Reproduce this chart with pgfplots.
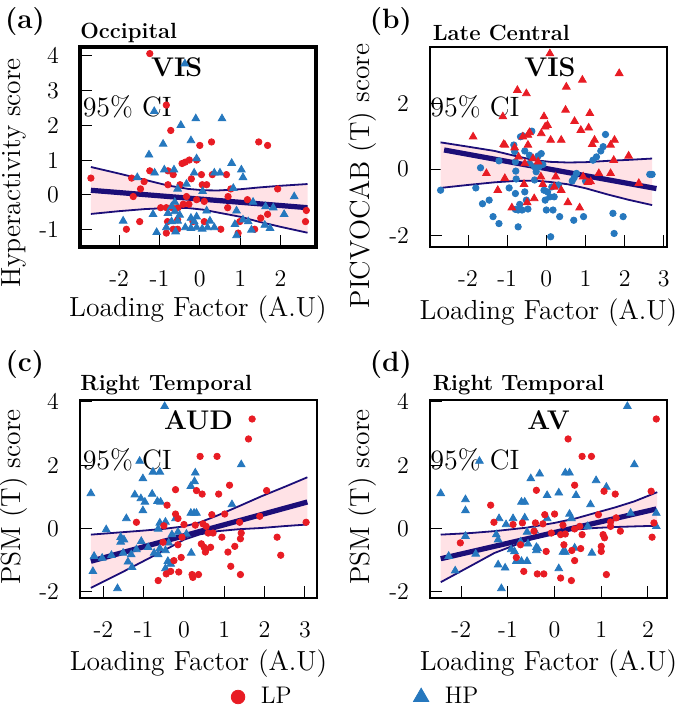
\documentclass[border=0pt]{standalone}
\usepackage{fontspec}
\usepackage{pgfplots}
\pgfplotsset{compat=1.18}
\definecolor{lpred}{RGB}{232,28,36}
\definecolor{hpblue}{RGB}{38,120,190}
\definecolor{navy}{RGB}{28,14,120}
\definecolor{cipink}{RGB}{255,226,230}
\pgfplotsset{
 panel/.style={scale only axis, clip=false,
   axis line style={line width=1.1pt}, tick align=inside, tick pos=left,
   major tick length=6pt, tick style={black,line width=0.5pt},
   /pgf/number format/assume math mode=true,
   tick label style={font=\fontsize{12}{14}\selectfont},
   xticklabel style={yshift=-8pt}, yticklabel style={xshift=-7pt},
   every axis y label/.style={rotate=90, anchor=center, font=\fontsize{13.8}{16}\selectfont},
   every axis x label/.style={anchor=center, font=\fontsize{13.8}{16}\selectfont}},
 redc/.style={only marks, mark=*, mark size=1.6pt, color=lpred},
 bluec/.style={only marks, mark=*, mark size=1.6pt, color=hpblue},
 redt/.style={only marks, mark=triangle*, mark size=2.2pt, color=lpred},
 bluet/.style={only marks, mark=triangle*, mark size=2.2pt, color=hpblue},
 reg/.style={navy, line width=2.6pt, no marks},
 ci/.style={navy, line width=0.9pt, no marks},
 band/.style={fill=cipink, draw=none, no marks},
}
\newcommand{\lbl}[1]{{\fontsize{14}{16}\selectfont\bfseries #1}}
\newcommand{\reg}[1]{{\fontsize{11}{13}\selectfont\bfseries #1}}
\newcommand{\net}[1]{{\fontsize{13.5}{16}\selectfont\bfseries #1}}
\newcommand{\ci}{{\fontsize{14}{16}\selectfont 95\% CI}}
\begin{document}
\begin{tikzpicture}
\path[use as bounding box] (0,0) rectangle (342.5pt,358pt);
% ---------------- (a)
\begin{axis}[panel, at={(40pt,234.5pt)}, anchor=south west, width=118pt, height=100pt,
  axis line style={line width=1.6pt},
  xmin=-2.97, xmax=2.88, ymin=-1.5, ymax=4.25,
  xtick={-2,-1,0,1,2}, ytick={-1,0,1,2,3,4},
  xlabel={Loading Factor (A.U)}, ylabel={Hyperactivity score},
  xlabel style={at={(rel axis cs:0.5,-0.315)}},
  ylabel style={at={(rel axis cs:-0.279,0.37)}}]
\addplot[band] coordinates {(-2.70,0.80) (-2.0,0.61) (-1.36,0.43) (-0.8,0.27) (-0.29,0.17) (0.1,0.13) (0.45,0.125) (1.0,0.16) (1.45,0.21) (2.0,0.26) (2.67,0.31) (2.67,-1.09) (2.0,-0.92) (1.45,-0.77) (1.0,-0.63) (0.45,-0.51) (0.1,-0.43) (-0.29,-0.38) (-0.8,-0.38) (-1.36,-0.41) (-2.0,-0.47) (-2.70,-0.55)} -- cycle;
\addplot[redc] coordinates {(-1.24,4.06) (-0.83,2.58) (-0.72,1.85) (0,1.42) (0.29,1.52) (1.46,1.52) (1.68,1.42) (-0.44,0.90) (-0.36,0.94) (-0.26,1.0) (-0.08,1.0) (-1.24,0.69) (-0.79,0.69) (-0.66,0.58) (0.04,0.58) (0.31,0.58) (0.66,0.58) (-2.70,0.48) (-1.69,0.48) (-1.38,0.38) (-1.47,0.17) (-1.65,-0.05) (-0.79,0.29) (-0.49,0.29) (-0.21,0.46) (0.06,0.29) (0.17,0.29) (0.77,0.17) (1.93,0.17) (-0.33,-0.05) (-0.08,-0.14) (0.70,-0.05) (1.18,-0.14) (-0.97,-0.37) (-0.83,-0.37) (-0.69,-0.37) (-0.54,-0.37) (-0.41,-0.27) (-0.27,-0.27) (0.69,-0.37) (1.68,-0.56) (1.51,-0.67) (2.64,-0.45) (2.62,-0.77) (-1.49,-0.77) (-0.80,-0.77) (-0.55,-0.72) (-0.17,-0.77) (0.11,-0.77) (0.99,-0.77) (-1.82,-0.99) (-0.83,-1.10) (-0.66,-0.99) (-0.55,-0.99) (0.52,-0.99) (1.36,-0.99) (0.95,-1.10) (0.11,-0.19)};
\addplot[bluet] coordinates {(-0.37,3.77) (-1.13,2.40) (-0.10,2.19) (0.55,2.19) (-0.47,2.0) (-0.91,1.46) (-0.22,1.56) (-1.26,1.15) (-0.08,1.04) (0.79,0.91) (1.03,0.72) (1.07,0.5) (-1.12,0.63) (-0.88,0.72) (-0.64,0.72) (-0.14,0.63) (0.36,0.63) (0.50,0.63) (-1.55,0.5) (-0.33,0.31) (-0.55,0.17) (0.07,0.10) (0.83,0.19) (1.32,-0.21) (2.34,-0.05) (1.63,-0.34) (1.82,-0.37) (0.91,-0.46) (2.09,-0.56) (-0.62,-0.21) (-0.70,-0.34) (-0.79,-0.53) (-0.62,-0.48) (-0.50,-0.58) (-0.08,-0.63) (0.17,-0.46) (-1.90,-0.75) (-1.16,-0.56) (-0.70,-0.77) (-0.55,-0.75) (-0.22,-0.67) (-0.14,-0.77) (0.25,-0.75) (0.87,-0.85) (1.07,-0.72) (1.20,-0.77) (1.61,-0.87) (1.74,-0.96) (-1.07,-1.08) (-0.83,-0.94) (-0.60,-1.06) (-0.36,-0.94) (-0.22,-0.96) (-0.08,-0.94) (0.06,-0.98) (0.19,-0.94) (0.36,-0.94) (0.91,-1.17) (1.28,-1.01)};
\addplot[ci] coordinates {(-2.70,0.80) (-2.0,0.61) (-1.36,0.43) (-0.8,0.27) (-0.29,0.17) (0.1,0.13) (0.45,0.125) (1.0,0.16) (1.45,0.21) (2.0,0.26) (2.67,0.31)};
\addplot[ci] coordinates {(-2.70,-0.55) (-2.0,-0.47) (-1.36,-0.41) (-0.8,-0.38) (-0.29,-0.38) (0.1,-0.43) (0.45,-0.51) (1.0,-0.63) (1.45,-0.77) (2.0,-0.92) (2.67,-1.09)};
\addplot[reg] coordinates {(-2.70,0.13) (2.67,-0.37)};
\node at (rel axis cs:-0.233,1.125) {\lbl{(a)}};
\node[anchor=west, inner sep=0pt] at (rel axis cs:0,1.07) {\reg{Occipital}};
\node at (rel axis cs:0.41,0.9) {\net{VIS}};
\node[anchor=west, inner sep=0pt] at (rel axis cs:0.01,0.70) {\ci};
\end{axis}
% ---------------- (b)
\begin{axis}[panel, at={(215pt,234.5pt)}, anchor=south west, width=118.5pt, height=100pt,
  xmin=-2.97, xmax=3.08, ymin=-2.36, ymax=3.70,
  xtick={-2,-1,0,1,2,3}, ytick={-2,0,2},
  xlabel={Loading Factor (A.U)}, ylabel={PICVOCAB (T) score},
  xlabel style={at={(rel axis cs:0.5,-0.33)}},
  ylabel style={at={(rel axis cs:-0.283,0.355)}}]
\addplot[band] coordinates {(-2.70,0.81) (-2.0,0.68) (-1.32,0.55) (-0.8,0.40) (-0.30,0.27) (0.1,0.22) (0.55,0.20) (1.0,0.21) (1.57,0.25) (2.1,0.28) (2.70,0.32) (2.70,-1.09) (2.1,-0.93) (1.57,-0.77) (1.0,-0.58) (0.55,-0.46) (0.1,-0.39) (-0.30,-0.35) (-0.8,-0.36) (-1.32,-0.40) (-2.0,-0.48) (-2.70,-0.57)} -- cycle;
\addplot[bluec] coordinates {(-2.70,-0.64) (-1.68,0.04) (-1.80,-0.57) (-1.63,-1.05) (-1.46,-0.94) (-1.36,-1.44) (-1.21,-1.65) (-1.21,0.25) (-0.95,-0.57) (-0.83,0.73) (-0.81,0.53) (-0.79,0.22) (-0.78,-0.06) (-0.77,-0.30) (-0.79,-0.74) (-0.72,-1.24) (-0.68,-1.07) (-0.79,-1.22) (-0.72,-1.75) (-0.62,-1.24) (-0.66,0.98) (-0.60,1.01) (-0.55,0.55) (-0.55,-0.69) (-0.51,-0.94) (-0.47,-1.21) (-0.43,0.42) (-0.43,0.17) (-0.37,1.15) (-0.30,0.07) (-0.26,-0.08) (-0.21,0.40) (-0.19,0.07) (-0.13,0.47) (-0.09,0.14) (-0.06,-0.64) (-0.03,-0.94) (0,-1.24) (0.03,-0.69) (0.09,-0.84) (0.11,-2.05) (0.17,-1.24) (0.20,-0.84) (0.31,-0.48) (0.34,-1.44) (0.70,-1.55) (0.66,-0.36) (0.71,-0.26) (0.77,-0.13) (0.95,-1.44) (1.0,-0.36) (1.19,0.27) (1.28,0.37) (1.39,0.55) (1.45,0.68) (1.51,1.05) (1.70,-1.34) (1.73,-1.95) (1.96,-1.44) (2.64,-0.16) (2.70,-0.16) (0.14,-0.54) (-0.30,-0.33)};
\addplot[redt] coordinates {(0.09,3.5) (1.86,2.90) (0.92,2.70) (-0.74,2.39) (-0.51,2.29) (0.51,2.49) (-1.11,1.59) (0.49,1.79) (0.72,1.45) (1.11,1.69) (0.88,1.18) (1.08,1.25) (-0.06,1.59) (-0.03,1.28) (0.03,1.33) (-0.47,1.03) (-0.43,1.11) (-0.60,0.98) (-0.13,1.08) (0.11,0.88) (0.38,0.88) (-1.87,0.98) (-1.09,0.75) (-1.06,0.73) (-0.81,0.65) (1.17,0.75) (1.23,0.88) (1.64,0.73) (1.74,0.88) (1.72,0.27) (2.10,0.40) (-0.71,0.37) (-0.55,0.17) (-0.34,0.32) (-0.21,0.22) (-1.53,-0.13) (-1.06,-0.28) (-0.14,-0.23) (0.24,-0.23) (0.94,-0.23) (1.34,-0.13) (1.64,-0.13) (-1.24,-0.64) (-0.57,-0.46) (-0.09,-0.46) (0.20,-0.54) (0.38,-0.64) (1.06,-0.40) (1.13,-0.38) (2.36,-0.43) (-0.49,-1.01) (-0.31,-0.89) (0.55,-1.01) (-0.88,-1.17) (0.85,-1.17) (-0.47,0.73)};
\addplot[ci] coordinates {(-2.70,0.81) (-2.0,0.68) (-1.32,0.55) (-0.8,0.40) (-0.30,0.27) (0.1,0.22) (0.55,0.20) (1.0,0.21) (1.57,0.25) (2.1,0.28) (2.70,0.32)};
\addplot[ci] coordinates {(-2.70,-0.57) (-2.0,-0.48) (-1.32,-0.40) (-0.8,-0.36) (-0.30,-0.35) (0.1,-0.39) (0.55,-0.46) (1.0,-0.58) (1.57,-0.77) (2.1,-0.93) (2.70,-1.09)};
\addplot[reg] coordinates {(-2.61,0.58) (2.81,-0.59)};
\node at (rel axis cs:-0.165,1.125) {\lbl{(b)}};
\node[anchor=west, inner sep=0pt] at (rel axis cs:0.01,1.07) {\reg{Late Central}};
\node at (rel axis cs:0.506,0.9) {\net{VIS}};
\node[anchor=west, inner sep=0pt] at (rel axis cs:0.0,0.70) {\ci};
\end{axis}
% ---------------- (c)
\begin{axis}[panel, at={(40pt,59pt)}, anchor=south west, width=118.5pt, height=99pt,
  xmin=-2.58, xmax=3.30, ymin=-2.19, ymax=4.06,
  xtick={-2,-1,0,1,2,3}, ytick={-2,0,2,4},
  xlabel={Loading Factor (A.U)}, ylabel={PSM (T) score},
  xlabel style={at={(rel axis cs:0.5,-0.33)}},
  ylabel style={at={(rel axis cs:-0.279,0.51)}},
  legend columns=2,
  legend style={at={(rel axis cs:1.168,-0.5)}, anchor=center, draw=none, fill=none,
    font=\fontsize{12}{14}\selectfont,
    /tikz/every odd column/.append style={column sep=6pt},
    /tikz/every even column/.append style={column sep=59pt}}]
\addlegendimage{redc, mark size=3.4pt}\addlegendentry{LP}
\addlegendimage{bluet, mark size=4.4pt}\addlegendentry{HP}
\addplot[band] coordinates {(-2.31,-0.19) (-1.6,-0.12) (-0.98,-0.06) (-0.45,0.0) (0,0.07) (0.4,0.20) (0.84,0.42) (1.35,0.70) (1.92,1.02) (2.5,1.32) (3.06,1.62) (3.06,0.13) (2.5,0.08) (1.92,0.02) (1.35,-0.02) (0.84,-0.08) (0.4,-0.18) (0,-0.35) (-0.45,-0.66) (-0.98,-1.01) (-1.6,-1.42) (-2.31,-1.87)} -- cycle;
\addplot[bluet] coordinates {(-0.48,3.86) (-2.31,1.11) (-1.10,2.13) (-1.02,1.58) (-0.77,1.79) (-0.60,1.79) (-1.22,1.07) (-1.07,0.95) (-0.97,0.84) (-0.79,1.09) (-0.66,0.86) (-0.58,0.84) (-1.02,0.57) (-1.43,0.32) (-0.60,0.18) (-0.46,0.21) (-0.21,0.32) (0.17,0.49) (0.25,0.49) (0.31,0.49) (0.17,1.34) (0.26,1.49) (0.28,1.76) (1.42,2.02) (1.19,0.76) (-1.93,-0.03) (-1.57,-0.27) (-1.49,-0.35) (-1.06,-0.40) (-0.89,-0.59) (-0.60,-0.63) (-0.46,-0.69) (-0.38,-0.45) (-0.30,-0.19) (-0.15,-0.11) (0.06,-0.17) (-2.23,-0.87) (-2.03,-0.93) (-1.80,-0.84) (-1.51,-0.77) (-1.31,-0.82) (-1.18,-0.66) (-1.39,-1.05) (-0.74,-0.77) (-0.64,-0.82) (-0.40,-1.03) (-0.33,-1.12) (0.18,-0.77) (-2.26,-1.35) (-1.29,-1.22) (-0.46,-1.26) (-1.65,-1.89) (-0.64,-0.01) (-1.57,-0.42)};
\addplot[redc] coordinates {(1.69,3.46) (1.60,2.83) (0.40,2.28) (0.82,2.28) (-0.21,1.23) (0.31,1.20) (0.45,1.09) (1.13,1.37) (0.86,1.09) (2.05,1.20) (-0.42,0.74) (-0.21,0.46) (-1.18,0.20) (-0.15,0.32) (0.69,0.44) (1.01,0.46) (1.38,0.20) (1.88,0.39) (3.03,0.20) (0.28,0.11) (0.47,0.15) (0.55,0.07) (0.60,-0.14) (0.72,-0.14) (0.94,-0.27) (1.42,-0.14) (1.40,-0.32) (2.31,-0.27) (-0.52,-0.43) (-0.15,-0.51) (-0.05,-0.27) (0.43,-0.48) (0.50,-0.59) (0.55,-0.66) (0.66,-0.59) (0.53,-0.74) (1.09,-0.74) (1.26,-0.56) (2.40,-0.84) (-0.25,-1.01) (-0.07,-0.91) (1.16,-1.19) (-0.33,-1.35) (-0.13,-1.37) (0.20,-1.45) (0.22,-1.54) (0.36,-1.45) (1.40,-1.45) (-0.44,-1.43) (-0.64,-1.64) (0,0.13) (-0.50,0.09)};
\addplot[ci] coordinates {(-2.31,-0.19) (-1.6,-0.12) (-0.98,-0.06) (-0.45,0.0) (0,0.07) (0.4,0.20) (0.84,0.42) (1.35,0.70) (1.92,1.02) (2.5,1.32) (3.06,1.62)};
\addplot[ci] coordinates {(-2.31,-1.87) (-1.6,-1.42) (-0.98,-1.01) (-0.45,-0.66) (0,-0.35) (0.4,-0.18) (0.84,-0.08) (1.35,-0.02) (1.92,0.02) (2.5,0.08) (3.06,0.13)};
\addplot[reg] coordinates {(-2.31,-1.03) (3.06,0.84)};
\node at (rel axis cs:-0.233,1.177) {\lbl{(c)}};
\node[anchor=west, inner sep=0pt] at (rel axis cs:0,1.076) {\reg{Right Temporal}};
\node at (rel axis cs:0.5,0.9) {\net{AUD}};
\node[anchor=west, inner sep=0pt] at (rel axis cs:0.01,0.70) {\ci};
\end{axis}
% ---------------- (d)
\begin{axis}[panel, at={(215pt,59pt)}, anchor=south west, width=118.5pt, height=99pt,
  xmin=-2.67, xmax=2.41, ymin=-2.19, ymax=4.06,
  xtick={-2,-1,0,1,2}, ytick={-2,0,2,4},
  xlabel={Loading Factor (A.U)}, ylabel={PSM (T) score},
  xlabel style={at={(rel axis cs:0.5,-0.33)}},
  ylabel style={at={(rel axis cs:-0.283,0.51)}}]
\addplot[band] coordinates {(-2.44,-0.19) (-1.8,-0.14) (-1.29,-0.08) (-0.6,0.03) (0,0.18) (0.45,0.32) (0.86,0.49) (1.3,0.67) (1.71,0.86) (2.20,1.15) (2.20,0.09) (1.71,0.07) (1.3,0.05) (0.86,0.02) (0.45,-0.03) (0,-0.11) (-0.6,-0.38) (-1.29,-0.77) (-1.8,-1.18) (-2.44,-1.69)} -- cycle;
\addplot[bluet] coordinates {(1.56,3.86) (-2.44,1.11) (1.71,2.02) (-1.61,2.13) (-1.91,0.92) (-1.91,0.57) (-0.51,1.58) (-0.32,1.73) (0.23,1.76) (0.32,1.76) (0.89,1.52) (1.11,1.31) (-0.16,1.05) (0.09,1.13) (0.46,1.05) (-0.71,0.84) (-0.64,0.84) (0.77,0.76) (-1.19,0.32) (-0.89,0.32) (-1.04,0.13) (-0.64,0.34) (-0.16,0.32) (0.32,0.46) (0.36,0.32) (2.18,0.49) (2.18,0.07) (1.63,0.49) (0.71,0.07) (-1.91,-0.24) (-1.25,-0.19) (-1.21,-0.35) (-0.59,-0.11) (-0.43,-0.06) (-0.57,-0.48) (-0.73,-0.42) (-2.27,-0.87) (-1.69,-0.80) (-0.86,-0.72) (-0.39,-0.69) (-0.36,-0.63) (0.18,-0.74) (0.23,-0.74) (0.43,-0.61) (0.80,-0.77) (-2.13,-1.33) (-1.21,-1.14) (-1.06,-1.24) (-0.82,-1.03) (-0.71,-1.03) (-0.59,-1.03) (0.09,-1.26) (-1.14,-1.89) (-0.39,-0.59) (-0.93,-0.66)};
\addplot[redc] coordinates {(2.18,3.46) (0.29,2.83) (0.59,2.28) (0.79,2.28) (0.43,1.37) (-0.39,1.21) (1.06,1.18) (1.30,1.09) (2.07,1.18) (-1.37,0.74) (-1.30,0.20) (-0.21,0.44) (0,0.46) (-0.89,0.13) (-0.69,0.18) (-0.41,0.18) (-0.25,0.15) (0.18,0.11) (0.54,0.07) (0.94,0.44) (1.20,0.07) (1.32,0.34) (1.20,0.21) (1.41,-0.08) (2.13,0.18) (2.09,-0.27) (-2.02,-0.45) (-0.07,-0.14) (0.13,-0.19) (0.23,-0.17) (0.20,-0.51) (0.59,-0.19) (1.04,-0.19) (1.07,-0.29) (-0.73,-0.51) (-0.82,-0.91) (-0.18,-0.72) (0.37,-0.69) (0.43,-1.01) (0.56,-0.63) (1.00,-0.56) (1.00,-0.72) (-0.66,-1.35) (-0.37,-1.43) (-0.23,-1.43) (0.13,-1.56) (0.36,-1.64) (1.11,-1.45) (-0.44,-0.08) (0.43,-0.01)};
\addplot[ci] coordinates {(-2.44,-0.19) (-1.8,-0.14) (-1.29,-0.08) (-0.6,0.03) (0,0.18) (0.45,0.32) (0.86,0.49) (1.3,0.67) (1.71,0.86) (2.20,1.15)};
\addplot[ci] coordinates {(-2.44,-1.69) (-1.8,-1.18) (-1.29,-0.77) (-0.6,-0.38) (0,-0.11) (0.45,-0.03) (0.86,0.02) (1.3,0.05) (1.71,0.07) (2.20,0.09)};
\addplot[reg] coordinates {(-2.44,-0.95) (2.18,0.62)};
\node at (rel axis cs:-0.165,1.177) {\lbl{(d)}};
\node[anchor=west, inner sep=0pt] at (rel axis cs:0.01,1.076) {\reg{Right Temporal}};
\node at (rel axis cs:0.5,0.9) {\net{AV}};
\node[anchor=west, inner sep=0pt] at (rel axis cs:0.0,0.70) {\ci};
\end{axis}
\end{tikzpicture}
\end{document}
